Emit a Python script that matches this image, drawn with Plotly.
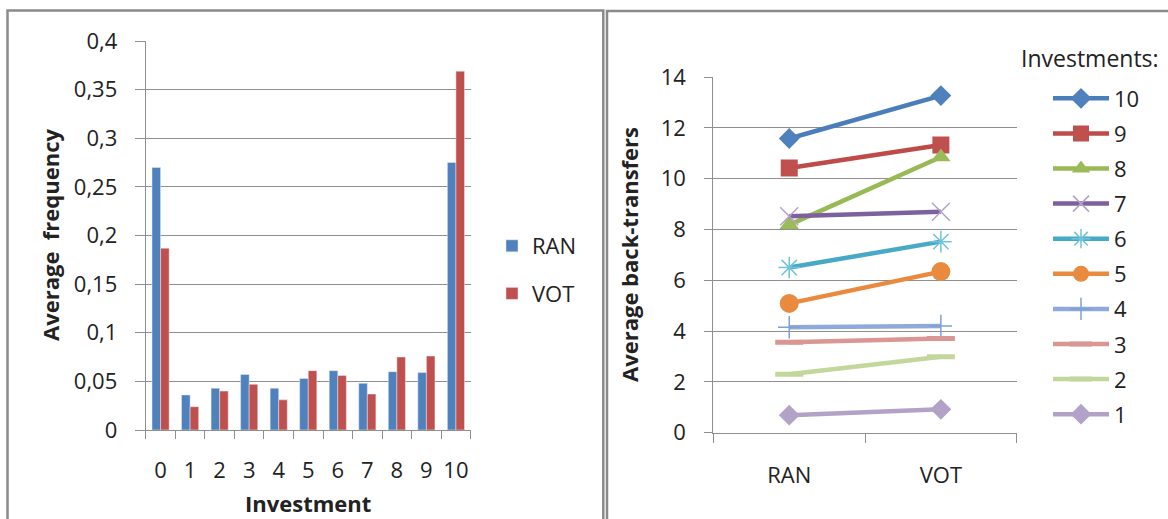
import plotly.graph_objects as go

# ---------------- data ----------------
investment = ["0", "1", "2", "3", "4", "5", "6", "7", "8", "9", "10"]
ran_freq = [0.270, 0.036, 0.043, 0.057, 0.043, 0.053, 0.061, 0.048, 0.060, 0.059, 0.275]
vot_freq = [0.187, 0.024, 0.040, 0.047, 0.031, 0.061, 0.056, 0.037, 0.075, 0.076, 0.369]

treatments = ["RAN", "VOT"]
series_names = ["10", "9", "8", "7", "6", "5", "4", "3", "2", "1"]
back_ran = [11.58, 10.42, 8.18, 8.52, 6.50, 5.09, 4.15, 3.56, 2.30, 0.69]
back_vot = [13.27, 11.32, 10.85, 8.70, 7.52, 6.34, 4.20, 3.71, 2.99, 0.92]

# ---------------- styles ----------------
FONT = "Open Sans"
TXT = "#222222"
GRID = "#8f8f8f"
W, H = 1168, 519

line_colors = ["#4A7EBB", "#BE4B48", "#98B954", "#7D60A0", "#46AAC5",
               "#E98A3E", "#8FAADA", "#D99694", "#C3D69B", "#B3A2C7"]
marker_styles = [
    dict(symbol="diamond", size=16, color="#4F81BD"),
    dict(symbol="square", size=17, color="#C0504D"),
    dict(symbol="triangle-up", size=17, color="#9BBB59"),
    dict(symbol="x-thin-open", size=18, color="#B3A2C7", line=dict(color="#B3A2C7", width=1.5)),
    dict(symbol="asterisk-open", size=18, color="#6FC3DA", line=dict(color="#6FC3DA", width=1.5)),
    dict(symbol="circle", size=19, color="#E98A3E"),
    dict(symbol="cross-thin-open", size=16, color="#7FA0D6", line=dict(color="#7FA0D6", width=1.5)),
    dict(symbol="line-ew-open", size=20, color="#D99694", line=dict(color="#D99694", width=5)),
    dict(symbol="line-ew-open", size=20, color="#C3D69B", line=dict(color="#C3D69B", width=5)),
    dict(symbol="diamond", size=16, color="#B3A2C7"),
]

fig = go.Figure()

# ---------------- left: bars ----------------
fig.add_trace(go.Bar(x=investment, y=ran_freq, name="RAN", marker_color="#4F81BD",
                     xaxis="x", yaxis="y", legend="legend", legendgroup="RAN"))
fig.add_trace(go.Bar(x=investment, y=vot_freq, name="VOT", marker_color="#C0504D",
                     xaxis="x", yaxis="y", legend="legend", legendgroup="VOT"))

# ---------------- right: lines ----------------
for i, nm in enumerate(series_names):
    fig.add_trace(go.Scatter(
        x=treatments, y=[back_ran[i], back_vot[i]], name=nm,
        mode="lines+markers", line=dict(color=line_colors[i], width=4.5),
        marker=marker_styles[i], xaxis="x2", yaxis="y2",
        legend="legend2", legendgroup=nm))


def px_x(p):
    return p / W


def px_y(p):
    return (H - p) / H


FS = 22
tickfont = dict(family=FONT, size=FS, color=TXT)

fig.update_layout(
    width=W, height=H,
    margin=dict(l=0, r=0, t=0, b=0, autoexpand=False),
    paper_bgcolor="white", plot_bgcolor="white",
    separators=", ",
    barmode="group", bargap=0.42, bargroupgap=0,
    font=dict(family=FONT, size=FS, color=TXT),
    xaxis=dict(domain=[px_x(145.8), px_x(470.7)], type="category", anchor="y",
               automargin=False, tickangle=0,
               showgrid=False, showline=True, linecolor=GRID, linewidth=1.3,
               ticks="outside", tickson="boundaries", ticklen=8, tickcolor=GRID,
               tickwidth=1.3, tickfont=tickfont, ticklabelstandoff=20),
    yaxis=dict(domain=[px_y(430), px_y(41)], range=[0, 0.4], dtick=0.05, anchor="x",
               automargin=False,
               showgrid=True, gridcolor=GRID, gridwidth=1.3, zeroline=False,
               showline=True, linecolor=GRID, linewidth=1.3,
               ticks="outside", ticklen=10, tickcolor=GRID, tickwidth=1.3,
               tickfont=tickfont, ticklabelstandoff=13),
    xaxis2=dict(domain=[px_x(713.4), px_x(1016.7)], type="category", anchor="y2",
                range=[-0.5, 1.5], automargin=False, tickangle=0,
                showgrid=False, showline=True, linecolor=GRID, linewidth=1.3,
                ticks="outside", tickson="boundaries", ticklen=9, tickcolor=GRID,
                tickwidth=1.3, tickfont=tickfont, ticklabelstandoff=23),
    yaxis2=dict(domain=[px_y(432.7), px_y(77)], range=[0, 14], dtick=2, anchor="x2",
                automargin=False,
                showgrid=True, gridcolor=GRID, gridwidth=1.3, zeroline=False,
                showline=True, linecolor=GRID, linewidth=1.3,
                ticks="outside", ticklen=8, tickcolor=GRID, tickwidth=1.3,
                tickfont=tickfont, ticklabelstandoff=14),
    legend=dict(x=px_x(492), y=px_y(225), xanchor="left", yanchor="top",
                bgcolor="rgba(0,0,0,0)", tracegroupgap=16, itemwidth=30,
                font=dict(family=FONT, size=FS, color=TXT), traceorder="grouped"),
    legend2=dict(x=px_x(1048), y=px_y(77.5), xanchor="left", yanchor="top",
                 bgcolor="rgba(0,0,0,0)", tracegroupgap=3.5, itemwidth=56,
                 font=dict(family=FONT, size=FS, color=TXT), traceorder="grouped"),
    showlegend=True,
)

# axis titles and legend title
fig.add_annotation(text="<b>Investment</b>", x=px_x(308), y=px_y(503),
                   xref="paper", yref="paper", showarrow=False,
                   xanchor="center", yanchor="middle",
                   font=dict(family=FONT, size=22, color=TXT))
fig.add_annotation(text="<b>Average  frequency</b>", x=px_x(50), y=px_y(235),
                   xref="paper", yref="paper", showarrow=False, textangle=-90,
                   xanchor="center", yanchor="middle",
                   font=dict(family=FONT, size=22, color=TXT))
fig.add_annotation(text="<b>Average back-transfers</b>", x=px_x(629), y=px_y(255),
                   xref="paper", yref="paper", showarrow=False, textangle=-90,
                   xanchor="center", yanchor="middle",
                   font=dict(family=FONT, size=22, color=TXT))
fig.add_annotation(text="Investments:", x=px_x(1019), y=px_y(58),
                   xref="paper", yref="paper", showarrow=False,
                   xanchor="left", yanchor="middle",
                   font=dict(family=FONT, size=23, color=TXT))

# panel borders
fig.add_shape(type="rect", xref="paper", yref="paper",
              x0=px_x(7.5), x1=px_x(603.3), y0=px_y(530), y1=px_y(10.5),
              line=dict(color="#8a8a8a", width=2.5), fillcolor="rgba(0,0,0,0)", layer="above")
fig.add_shape(type="rect", xref="paper", yref="paper",
              x0=px_x(607), x1=px_x(1180), y0=px_y(530), y1=px_y(11),
              line=dict(color="#8a8a8a", width=2.5), fillcolor="rgba(0,0,0,0)", layer="above")

fig.write_html("out.html")
